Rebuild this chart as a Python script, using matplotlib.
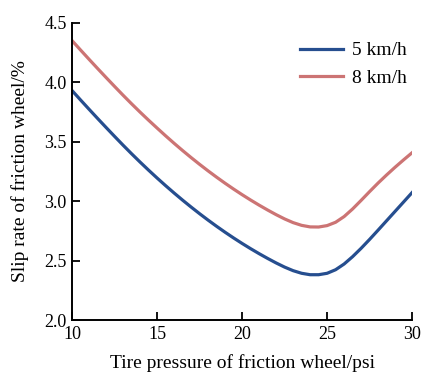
import matplotlib.pyplot as plt

# tire pressure (psi) and measured slip rate (%) at two speeds
pressure = [10.0, 10.5, 11.0, 11.5, 12.0, 12.5, 13.0, 13.5, 14.0, 14.5,
            15.0, 15.5, 16.0, 16.5, 17.0, 17.5, 18.0, 18.5, 19.0, 19.5,
            20.0, 20.5, 21.0, 21.5, 22.0, 22.5, 23.0, 23.5, 24.0, 24.5,
            25.0, 25.5, 26.0, 26.5, 27.0, 27.5, 28.0, 28.5, 29.0, 29.5, 30.0]
slip_5kmh = [3.930, 3.851, 3.773, 3.696, 3.620, 3.545, 3.471, 3.399, 3.329, 3.261,
             3.195, 3.131, 3.069, 3.009, 2.951, 2.895, 2.841, 2.789, 2.739, 2.691,
             2.645, 2.601, 2.559, 2.519, 2.481, 2.446, 2.416, 2.394, 2.382, 2.382,
             2.394, 2.424, 2.472, 2.534, 2.604, 2.679, 2.757, 2.836, 2.915, 2.994, 3.073]
slip_8kmh = [4.350, 4.271, 4.193, 4.116, 4.040, 3.965, 3.891, 3.819, 3.749, 3.681,
             3.615, 3.550, 3.487, 3.426, 3.367, 3.310, 3.255, 3.202, 3.151, 3.102,
             3.055, 3.010, 2.967, 2.926, 2.887, 2.851, 2.820, 2.797, 2.784, 2.783,
             2.795, 2.823, 2.871, 2.935, 3.007, 3.081, 3.153, 3.221, 3.286, 3.348, 3.408]

x_ticks = [10, 15, 20, 25, 30]
y_ticks = [2.0, 2.5, 3.0, 3.5, 4.0, 4.5]

plt.rcParams['font.family'] = ['Liberation Serif', 'DejaVu Serif']

fig = plt.figure(figsize=(4.24, 3.74), dpi=100)
ax = fig.add_axes([0.170, 0.144, 0.802, 0.795])

ax.plot(pressure, slip_5kmh, color="#264e8f", linewidth=2.3, label="5 km/h")
ax.plot(pressure, slip_8kmh, color="#cc7474", linewidth=2.3, label="8 km/h")

ax.set_xlim(10, 30)
ax.set_ylim(2.0, 4.5)
ax.set_xticks(x_ticks)
ax.set_yticks(y_ticks)
ax.set_yticklabels([f"{v:.1f}" for v in y_ticks])

for side in ["top", "right"]:
    ax.spines[side].set_visible(False)
for side in ["left", "bottom"]:
    ax.spines[side].set_linewidth(1.4)

ax.tick_params(direction="in", length=6, width=1.3, labelsize=13, pad=4)

ax.set_xlabel("Tire pressure of friction wheel/psi", fontsize=14, labelpad=8)
ax.set_ylabel("Slip rate of friction wheel/%", fontsize=14)
ax.yaxis.set_label_coords(-0.128, 0.5)

ax.legend(loc="upper right", bbox_to_anchor=(1.035, 0.995), frameon=False,
          fontsize=14, handlelength=2.2, handletextpad=0.45, labelspacing=0.5)

fig.savefig("out.png", dpi=100)
